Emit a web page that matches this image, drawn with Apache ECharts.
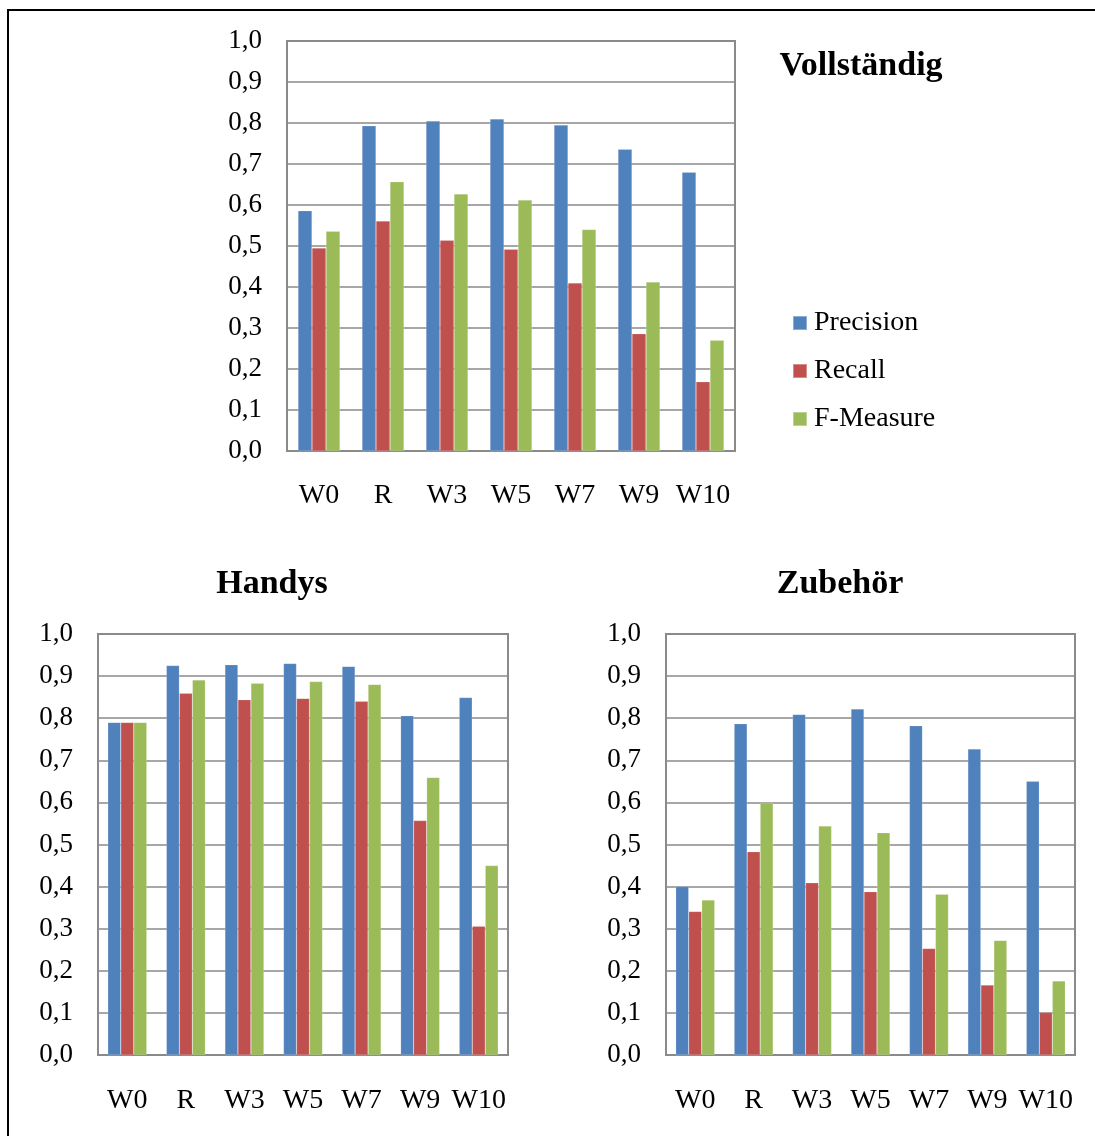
<!DOCTYPE html>
<html>
<head>
<meta charset="utf-8">
<script src="https://cdn.jsdelivr.net/npm/echarts@6/dist/echarts.min.js"></script>
<style>
html,body{margin:0;padding:0;background:#fff;}
#chart{width:1095px;height:1136px;}
</style>
</head>
<body>
<div id="chart"></div>
<script>
const categories = ['W0', 'R', 'W3', 'W5', 'W7', 'W9', 'W10'];
const yTickLabels = ['0,0','0,1','0,2','0,3','0,4','0,5','0,6','0,7','0,8','0,9','1,0'];
const seriesNames = ['Precision', 'Recall', 'F-Measure'];
const chartTitles = ['Vollständig', 'Handys', 'Zubehör'];

const vollPrecision = [0.586, 0.793, 0.805, 0.810, 0.795, 0.736, 0.680];
const vollRecall    = [0.495, 0.561, 0.514, 0.492, 0.410, 0.286, 0.169];
const vollFMeasure  = [0.536, 0.657, 0.627, 0.612, 0.540, 0.412, 0.270];

const handyPrecision = [0.790, 0.925, 0.927, 0.930, 0.923, 0.806, 0.849];
const handyRecall    = [0.790, 0.859, 0.844, 0.847, 0.840, 0.557, 0.306];
const handyFMeasure  = [0.790, 0.891, 0.883, 0.887, 0.880, 0.659, 0.450];

const zubPrecision = [0.400, 0.787, 0.809, 0.822, 0.782, 0.727, 0.650];
const zubRecall    = [0.341, 0.483, 0.409, 0.388, 0.253, 0.166, 0.101];
const zubFMeasure  = [0.368, 0.599, 0.544, 0.528, 0.382, 0.272, 0.176];

const colors = ['#4F81BD', '#C0504D', '#9BBB59'];
const FONT = "'Liberation Serif', 'Times New Roman', serif";
const lineColor = '#8a8a8a';

const grids = [
  {left: 287, top: 41, width: 448, height: 410},
  {left: 98, top: 634, width: 410, height: 421},
  {left: 666, top: 634, width: 409, height: 421}
];
const xMargins = [31, 32, 32];
const barWidths = [14, 13, 13];
const dataSets = [
  [vollPrecision, vollRecall, vollFMeasure],
  [handyPrecision, handyRecall, handyFMeasure],
  [zubPrecision, zubRecall, zubFMeasure]
];

const xAxes = grids.map((g, i) => ({
  type: 'category', gridIndex: i, data: categories,
  axisTick: {show: false},
  axisLine: {show: true, lineStyle: {color: lineColor, width: 2}},
  axisLabel: {fontFamily: FONT, fontSize: 28, color: '#000', margin: xMargins[i], interval: 0}
}));
const yAxes = grids.map((g, i) => ({
  type: 'value', gridIndex: i, min: 0, max: 1, interval: 0.1,
  axisTick: {show: false},
  axisLine: {show: true, lineStyle: {color: lineColor, width: 2}},
  splitLine: {show: true, lineStyle: {color: lineColor, width: 1.5}},
  axisLabel: {fontFamily: FONT, fontSize: 27, color: '#000', margin: 25, padding: [4, 0, 0, 0],
    formatter: (v, idx) => yTickLabels[Math.round(v * 10)]}
}));

const series = [];
dataSets.forEach((set, gi) => {
  set.forEach((vals, si) => {
    series.push({
      type: 'bar', name: seriesNames[si], xAxisIndex: gi, yAxisIndex: gi,
      data: vals, barWidth: barWidths[gi], barGap: '0%',
      itemStyle: {color: colors[si], borderColor: 'rgba(255,255,255,0.35)', borderWidth: 0.5},
      emphasis: {disabled: true}
    });
  });
});

const titleStyle = {fontFamily: FONT, fontSize: 34, fontWeight: 'bold', color: '#000'};
const option = {
  animation: false,
  backgroundColor: '#fff',
  color: colors,
  title: [
    {text: chartTitles[0], left: 856, top: 61, textAlign: 'center', textVerticalAlign: 'middle', textStyle: titleStyle},
    {text: chartTitles[1], left: 267, top: 579, textAlign: 'center', textVerticalAlign: 'middle', textStyle: titleStyle},
    {text: chartTitles[2], left: 835, top: 579, textAlign: 'center', textVerticalAlign: 'middle', textStyle: titleStyle}
  ],
  legend: {
    orient: 'vertical', left: 792, top: 309, icon: 'rect', padding: 0,
    itemWidth: 14, itemHeight: 14, itemGap: 20,
    data: seriesNames,
    textStyle: {fontFamily: FONT, fontSize: 28, color: '#000', lineHeight: 28, padding: [0,0,0,2]}
  },
  grid: grids.map(g => Object.assign({show: true, borderColor: lineColor, borderWidth: 2, backgroundColor: 'transparent'}, g)),
  xAxis: xAxes,
  yAxis: yAxes,
  series: series,
  graphic: [{
    type: 'rect', shape: {x: 8, y: 10, width: 1300, height: 1300},
    style: {fill: 'none', stroke: '#000', lineWidth: 2}, z: -1
  }]
};

const chart = echarts.init(document.getElementById('chart'), null, {renderer: 'canvas'});
chart.setOption(option);
</script>
</body>
</html>
